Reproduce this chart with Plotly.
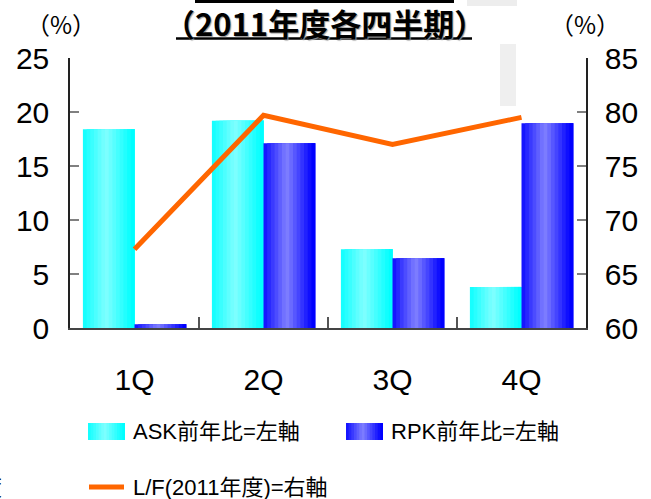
import plotly.graph_objects as go

# ---- data ----
quarters = ["1Q", "2Q", "3Q", "4Q"]
ask_yoy = [18.4, 19.2, 7.3, 3.8]       # ASK 前年比 (%), left axis
rpk_yoy = [0.35, 17.1, 6.45, 18.95]    # RPK 前年比 (%), left axis
load_factor = [67.3, 79.7, 77.0, 79.5] # L/F 2011年度 (%), right axis

ask_name = "ASK前年比=左軸"
rpk_name = "RPK前年比=左軸"
lf_name = "L/F(2011年度)=右軸"
title_text = "（2011年度各四半期）"

W, H = 651, 499
ML, MR, MT, MB = 70, 65, 58, 171
PW, PH = W - ML - MR, H - MT - MB


def px_x(p):
    return (p - ML) / PW


def px_y(p):
    return (H - MB - p) / PH


def mix(base, m):
    r, g, b = [int(round(c * (1 - m) + 255 * m)) for c in base]
    return f"rgb({r},{g},{b})"


def shade(f):
    return 0.5 * max(0.0, 1 - abs(f - 0.45) / 0.5)


CYAN = (0, 255, 255)
BLUE = (0, 0, 255)
N = 14
BW = 0.4

fig = go.Figure()

for name, vals, base, left in [(ask_name, ask_yoy, CYAN, -BW), (rpk_name, rpk_yoy, BLUE, 0.0)]:
    for i in range(N):
        f = (i + 0.5) / N
        fig.add_bar(
            x=quarters, y=vals, name=name,
            width=[BW - i * BW / N] * len(quarters),
            offset=[left + i * BW / N] * len(quarters),
            marker=dict(color=mix(base, shade(f)), line=dict(width=0)),
            showlegend=False, hoverinfo="skip" if i else None,
        )

fig.add_scatter(x=quarters, y=load_factor, yaxis="y2", mode="lines", name=lf_name,
                line=dict(color="#FF6600", width=5), showlegend=False)

tick_font = dict(family="Liberation Sans Narrow, Arial Narrow, Liberation Sans, Arial, sans-serif",
                 size=30, color="black")
cjk_font = "Liberation Sans Narrow, Liberation Sans, Noto Sans CJK JP, sans-serif"

shapes = []
annotations = []

# legend swatches (gradient) and texts
for x0, base in [(88, CYAN), (346, BLUE)]:
    w = 37
    for i in range(N):
        f = (i + 0.5) / N
        shapes.append(dict(type="rect", xref="paper", yref="paper",
                           x0=px_x(x0 + i * w / N), x1=px_x(x0 + w), y0=px_y(440), y1=px_y(423),
                           fillcolor=mix(base, shade(f)), line=dict(width=0)))
shapes.append(dict(type="line", xref="paper", yref="paper", x0=px_x(89), x1=px_x(124),
                   y0=px_y(487), y1=px_y(487), line=dict(color="#FF6600", width=5)))
for x, y, t in [(131, 431, ask_name), (389, 431, rpk_name), (131, 487, lf_name)]:
    annotations.append(dict(text=t, xref="paper", yref="paper", x=px_x(x), y=px_y(y),
                            xanchor="left", yanchor="middle", showarrow=False,
                            font=dict(family=cjk_font, size=22, color="black")))
annotations.append(dict(text="度", xref="paper", yref="paper", x=px_x(4), y=px_y(487),
                        xanchor="right", yanchor="middle", showarrow=False,
                        font=dict(family=cjk_font, size=22, color="black")))

# title
annotations.append(dict(text="<b>" + title_text + "</b>", xref="paper", yref="paper",
                        x=px_x(324), y=px_y(22), xanchor="center", yanchor="middle", showarrow=False,
                        font=dict(family="Noto Sans CJK JP, sans-serif", size=31, color="black",
                                  shadow="1px 1px 1px #999")))
shapes.append(dict(type="line", xref="paper", yref="paper", x0=px_x(176), x1=px_x(472),
                   y0=px_y(38.5), y1=px_y(38.5), line=dict(color="black", width=2.5)))
shapes.append(dict(type="rect", xref="paper", yref="paper", x0=px_x(195), x1=px_x(454),
                   y0=px_y(3), y1=px_y(-2), fillcolor="black", line=dict(width=0)))

# faint background artefacts
shapes.append(dict(type="rect", xref="paper", yref="paper", x0=px_x(467), x1=px_x(517),
                   y0=px_y(6), y1=px_y(-2), fillcolor="#ededed", line=dict(width=0), layer="below"))
shapes.append(dict(type="rect", xref="paper", yref="paper", x0=px_x(500), x1=px_x(516),
                   y0=px_y(106), y1=px_y(44), fillcolor="#efefef", line=dict(width=0), layer="below"))

# (%) unit labels
for x in (61, 585):
    annotations.append(dict(text="（%）", xref="paper", yref="paper", x=px_x(x), y=px_y(23),
                            xanchor="center", yanchor="middle", showarrow=False,
                            font=dict(family="Noto Sans CJK JP, sans-serif", size=24, color="black")))

fig.update_layout(
    width=W, height=H,
    margin=dict(l=ML, r=MR, t=MT, b=MB, pad=0),
    paper_bgcolor="white", plot_bgcolor="white",
    barmode="overlay",
    showlegend=False,
    shapes=shapes, annotations=annotations,
    xaxis=dict(type="category", range=[-0.5, 3.5], tickson="boundaries", ticks="inside",
               ticklen=11, tickcolor="#555", tickwidth=1.5, showline=True, linecolor="#444",
               linewidth=1.5, showgrid=False, zeroline=False, tickfont=tick_font,
               ticklabelstandoff=24),
    yaxis=dict(range=[0, 25], dtick=5, ticks="inside", ticklen=9, tickcolor="#808080",
               tickwidth=1.5, showline=True, linecolor="#222", linewidth=1.5, showgrid=False,
               zeroline=False, tickfont=tick_font, ticklabelstandoff=13),
    yaxis2=dict(range=[60, 85], dtick=5, overlaying="y", side="right", ticks="inside",
                ticklen=9, tickcolor="#808080", tickwidth=1.5, showline=True, linecolor="#222",
                linewidth=1.5, showgrid=False, zeroline=False, tickfont=tick_font,
                ticklabelstandoff=11),
)

fig.write_html("out.html", config={"displayModeBar": False},
               post_script="document.body.style.margin='0px';document.body.style.overflow='hidden';")
